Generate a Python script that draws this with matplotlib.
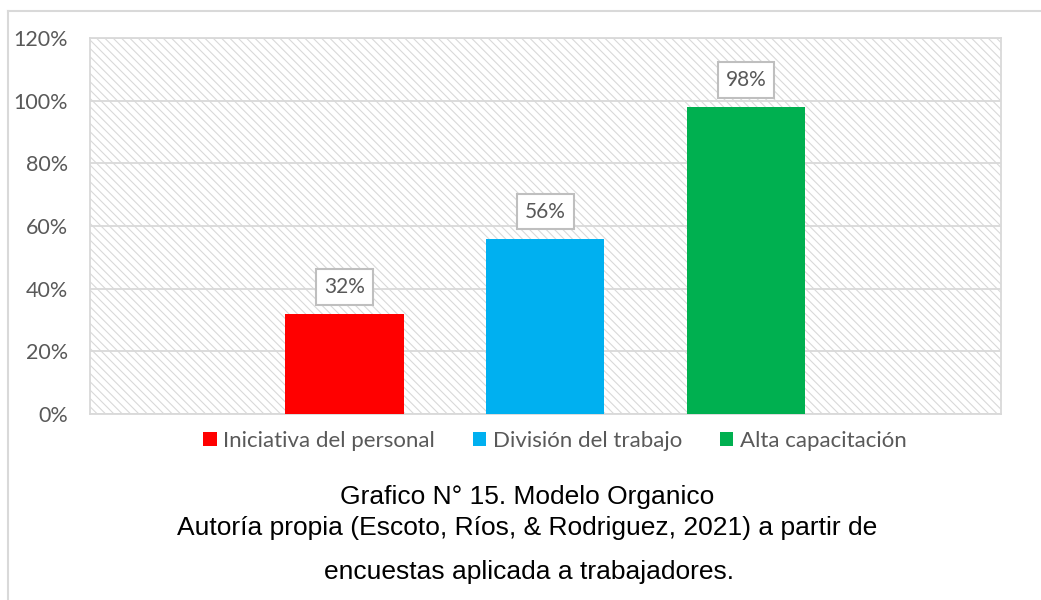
import matplotlib.pyplot as plt
from matplotlib.lines import Line2D
from matplotlib.patches import Rectangle

series = ["Iniciativa del personal", "División del trabajo", "Alta capacitación"]
values = [32, 56, 98]
colors = ["#FF0000", "#00B0F0", "#00B050"]
yticks = [0, 20, 40, 60, 80, 100, 120]
caption = ["Grafico N° 15. Modelo Organico",
           "Autoría propia (Escoto, Ríos, & Rodriguez, 2021) a partir de",
           "encuestas aplicada a trabajadores."]

plt.rcParams['font.family'] = ['Lato', 'DejaVu Sans']
plt.rcParams['hatch.color'] = '#d9d9d9'
plt.rcParams['hatch.linewidth'] = 0.8

fig = plt.figure(figsize=(10.41, 6), dpi=100)
ax = fig.add_axes([90/1041, 1-414/600, 911/1041, 376/600])

# hatched background of the plot area
ax.add_patch(Rectangle((0, 0), 1, 1, transform=ax.transAxes, facecolor='white',
                       edgecolor='#d9d9d9', hatch='\\\\\\\\', lw=0, zorder=0))
ax.set_facecolor('white')

for y in yticks:
    ax.axhline(y, color='#d9d9d9', lw=1.3, zorder=1)

bars = []
for i, (name, v, c) in enumerate(zip(series, values, colors)):
    b = ax.bar(i, v, width=0.59, color=c, label=name, zorder=3)
    bars.append(b)
    ax.annotate(f"{v}%", (i, v), xytext=(0, 27), textcoords='offset pixels',
                ha='center', va='center', fontsize=15, color='#595959', zorder=4,
                bbox=dict(boxstyle='square,pad=0.38', fc='white', ec='#bfbfbf', lw=1.5))

ax.set_xlim(-1.266, 3.269)
ax.set_ylim(0, 120)
ax.set_yticks(yticks)
ax.set_yticklabels([f"{t}%" for t in yticks], fontsize=15.5, color='#595959')
ax.set_xticks([])
ax.tick_params(axis='y', length=0, pad=16)
for s in ax.spines.values():
    s.set_color('#d9d9d9')
    s.set_linewidth(1.3)

leg = fig.legend(handles=[b[0] for b in bars], labels=series, loc='center',
                 bbox_to_anchor=(555/1041, 1-441/600), ncol=3, frameon=False,
                 fontsize=16, handlelength=0.6, handleheight=0.6, handletextpad=0.3,
                 columnspacing=1.7, labelcolor='#595959')

# caption
fig.text(527/1041, 1-497/600, caption[0], ha='center', va='center',
         fontsize=19, family='Liberation Sans', color='black')
fig.text(527/1041, 1-528/600, caption[1], ha='center', va='center',
         fontsize=19, family='Liberation Sans', color='black')
fig.text(529/1041, 1-572/600, caption[2], ha='center', va='center',
         fontsize=19, family='Liberation Sans', color='black')

# outer frame
fig.add_artist(Line2D([8/1041, 8/1041], [0, 1-11/600], transform=fig.transFigure,
                      color='#d9d9d9', lw=1.5))
fig.add_artist(Line2D([8/1041, 1], [1-11/600, 1-11/600], transform=fig.transFigure,
                      color='#d9d9d9', lw=1.5))

fig.savefig('out.png', dpi=100)
